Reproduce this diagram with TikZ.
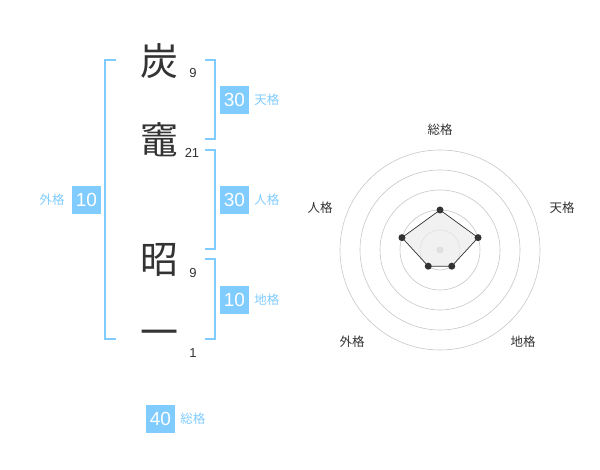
\documentclass[tikz,border=0pt]{standalone}
\usepackage{fontspec}
\setmainfont{Liberation Sans}
\newfontfamily\jp{Noto Sans CJK JP}
\usetikzlibrary{positioning}
\definecolor{kakublue}{RGB}{128,204,255}
\definecolor{inkgray}{RGB}{51,51,51}

\begin{document}
\begin{tikzpicture}[x=1pt, y=-1pt,
    kanji/.style={font=\jp\fontsize{38}{38}\selectfont, text=inkgray, inner sep=0pt},
    strokes/.style={font=\fontsize{13}{13}\selectfont, text=inkgray, inner sep=0pt},
    scorebox/.style={fill=kakublue, text=white, font=\fontsize{19}{19}\selectfont, minimum width=29pt, minimum height=28pt, inner sep=0pt},
    scorename/.style={font=\jp\fontsize{12.5}{12.5}\selectfont, text=kakublue, inner sep=0pt},
    bracket/.style={draw=kakublue, line width=2pt},
    ring/.style={draw=black!22, line width=0.6pt},
    dot/.style={circle, fill=inkgray, inner sep=0pt, minimum size=7pt},
    axisname/.style={font=\jp\fontsize{12.5}{12.5}\selectfont, text=inkgray, inner sep=0pt}]
    \useasboundingbox (0,0) rectangle (600,470);

    % Name
    \node[kanji] (sumi) at (159.5,61) {炭};
    \node[kanji] (kamado) at (159.5,140) {竈};
    \node[kanji] (aki) at (159.5,260) {昭};
    \node[kanji] (ichi) at (159.5,338) {一};
    \node[strokes] (sumi_n) at (193,73) {9};
    \node[strokes] (kamado_n) at (192,153) {21};
    \node[strokes] (aki_n) at (193,273) {9};
    \node[strokes] (ichi_n) at (193,353) {1};

    % Brackets
    \coordinate (gai_top) at (116,60);
    \coordinate (gai_bot) at (116,339);
    \coordinate (ten_top) at (205,60);
    \coordinate (ten_bot) at (205,139);
    \coordinate (jin_top) at (205,150);
    \coordinate (jin_bot) at (205,249);
    \coordinate (chi_top) at (205,259);
    \coordinate (chi_bot) at (205,339);
    \draw[bracket] (gai_top) -- ++(-11,0) |- (gai_bot);
    \draw[bracket] (ten_top) -- ++(10,0) |- (ten_bot);
    \draw[bracket] (jin_top) -- ++(10,0) |- (jin_bot);
    \draw[bracket] (chi_top) -- ++(10,0) |- (chi_bot);

    % Scores
    \node[scorebox] (ten_box) at (234.5,100) {30};
    \node[scorename, right=5pt of ten_box] (ten_name) {天格};
    \node[scorebox] (jin_box) at (234.5,200) {30};
    \node[scorename, right=5pt of jin_box] (jin_name) {人格};
    \node[scorebox] (chi_box) at (234.5,300) {10};
    \node[scorename, right=5pt of chi_box] (chi_name) {地格};
    \node[scorebox] (gai_box) at (86.5,200) {10};
    \node[scorename, left=7pt of gai_box] (gai_name) {外格};
    \node[scorebox] (so_box) at (160.5,419) {40};
    \node[scorename, right=5pt of so_box] (so_name) {総格};

    % Radar chart
    \coordinate (hub) at (440,250);
    \foreach \r in {20,40,60,80,100}
        \draw[ring] (hub) circle[radius=\r];
    \node[circle, fill=black!22, inner sep=0pt, minimum size=7pt] (hub_dot) at (hub) {};
    \coordinate (so_v) at ([shift={(-90:40)}]hub);
    \coordinate (ten_v) at ([shift={(-18:40)}]hub);
    \coordinate (chi_v) at ([shift={(54:20)}]hub);
    \coordinate (gai_v) at ([shift={(126:20)}]hub);
    \coordinate (jin_v) at ([shift={(198:40)}]hub);
    \fill[black!8, opacity=0.7] (so_v) -- (ten_v) -- (chi_v) -- (gai_v) -- (jin_v) -- cycle;
    \draw[inkgray, line width=0.7pt] (so_v) -- (ten_v) -- (chi_v) -- (gai_v) -- (jin_v) -- cycle;
    \node[dot] (so_pt) at (so_v) {};
    \node[dot] (ten_pt) at (ten_v) {};
    \node[dot] (chi_pt) at (chi_v) {};
    \node[dot] (gai_pt) at (gai_v) {};
    \node[dot] (jin_pt) at (jin_v) {};
    \node[axisname] (so_axis) at (440,130) {総格};
    \node[axisname] (ten_axis) at (562,208) {天格};
    \node[axisname] (jin_axis) at (320,208) {人格};
    \node[axisname] (gai_axis) at (352,342) {外格};
    \node[axisname] (chi_axis) at (523,342) {地格};
\end{tikzpicture}
\end{document}
